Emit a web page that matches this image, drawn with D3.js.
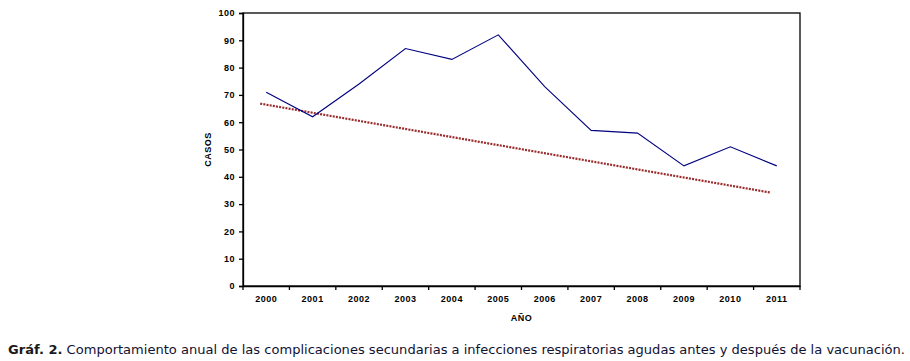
<!DOCTYPE html>
<html><head><meta charset="utf-8">
<script src="https://cdn.jsdelivr.net/npm/d3@7"></script>
<style>
body{margin:0;background:#fff;}
svg{display:block;}
.tick text{font-family:"Liberation Sans",Arial,sans-serif;font-weight:bold;font-size:9px;letter-spacing:0.5px;fill:#000;}
</style></head>
<body>
<svg id="chart" width="910" height="361"></svg>
<script>
const years = ["2000","2001","2002","2003","2004","2005","2006","2007","2008","2009","2010","2011"];
const casos = [71, 62, 74, 87, 83, 92, 73, 57, 56, 44, 51, 44];
const trendYears = ["2000","2011"];
const trendValues = [66.8, 34.2];
const yTicks = [0,10,20,30,40,50,60,70,80,90,100];
const xTitle = "AÑO";
const yTitle = "CASOS";
const captionBold = "Gráf. 2.";
const captionText = " Comportamiento anual de las complicaciones secundarias a infecciones respiratorias agudas antes y después de la vacunación.";

const svg = d3.select("#chart");
const L = 243, R = 800, T = 13, B = 286;

const x = d3.scaleBand().domain(years).range([L, R]).padding(0);
const y = d3.scaleLinear().domain([0, 100]).range([B, T]);
const cx = d => x(d) + x.bandwidth()/2;

// plot frame
svg.append("rect").attr("x", L).attr("y", T).attr("width", R-L).attr("height", B-T)
  .attr("fill", "none").attr("stroke", "#000").attr("stroke-width", 1.3);

// y axis
const yAxis = svg.append("g").attr("transform", `translate(${L},0)`)
  .call(d3.axisLeft(y).tickValues(yTicks).tickSize(4).tickPadding(4));
yAxis.select(".domain").attr("stroke", "#000").attr("stroke-width", 1.3);
yAxis.selectAll(".tick line").attr("stroke", "#000").attr("stroke-width", 1.3);

// x axis: ticks at band boundaries
const xAxis = svg.append("g").attr("transform", `translate(0,${B})`)
  .call(d3.axisBottom(x).tickSize(0).tickPadding(10));
xAxis.select(".domain").attr("stroke", "#000").attr("stroke-width", 1.3);
xAxis.selectAll(".tick text").attr("dy", "0.71em");
const edges = years.map(d => x(d)).concat([R]);
svg.append("g").selectAll("line").data(edges).join("line")
  .attr("x1", d => d).attr("x2", d => d).attr("y1", B).attr("y2", B + 4)
  .attr("stroke", "#000").attr("stroke-width", 1.3);

// trend line (dotted)
svg.append("path")
  .datum(trendYears.map((d, i) => [d, trendValues[i]]))
  .attr("d", d3.line().x(d => cx(d[0]) - 6).y(d => y(d[1])))
  .attr("fill", "none").attr("stroke", "#9b2a2a").attr("stroke-width", 2.2)
  .attr("stroke-dasharray", "2 1.2");

// data line
svg.append("path")
  .datum(years.map((d, i) => [d, casos[i]]))
  .attr("d", d3.line().x(d => cx(d[0])).y(d => y(d[1])))
  .attr("fill", "none").attr("stroke", "#000080").attr("stroke-width", 1.1);

// axis titles
svg.append("text").attr("x", (L+R)/2).attr("y", 321).attr("text-anchor", "middle")
  .style("font-family", "Liberation Sans, Arial, sans-serif").style("font-weight", "bold")
  .style("font-size", "9px").style("letter-spacing", "0.5px").text(xTitle);
svg.append("text").attr("transform", `translate(211,${(T+B)/2}) rotate(-90)`).attr("text-anchor", "middle")
  .style("font-family", "Liberation Sans, Arial, sans-serif").style("font-weight", "bold")
  .style("font-size", "9px").style("letter-spacing", "0.5px").text(yTitle);

// caption
const cap = svg.append("text").attr("x", 8).attr("y", 354)
  .style("font-family", "DejaVu Sans, Verdana, sans-serif").style("font-size", "12.5px")
  .attr("fill", "#111133").attr("textLength", 897).attr("lengthAdjust", "spacingAndGlyphs");
cap.append("tspan").style("font-weight", "bold").attr("fill", "#1a1a1a").text(captionBold);
cap.append("tspan").text(captionText);
</script>
</body></html>
